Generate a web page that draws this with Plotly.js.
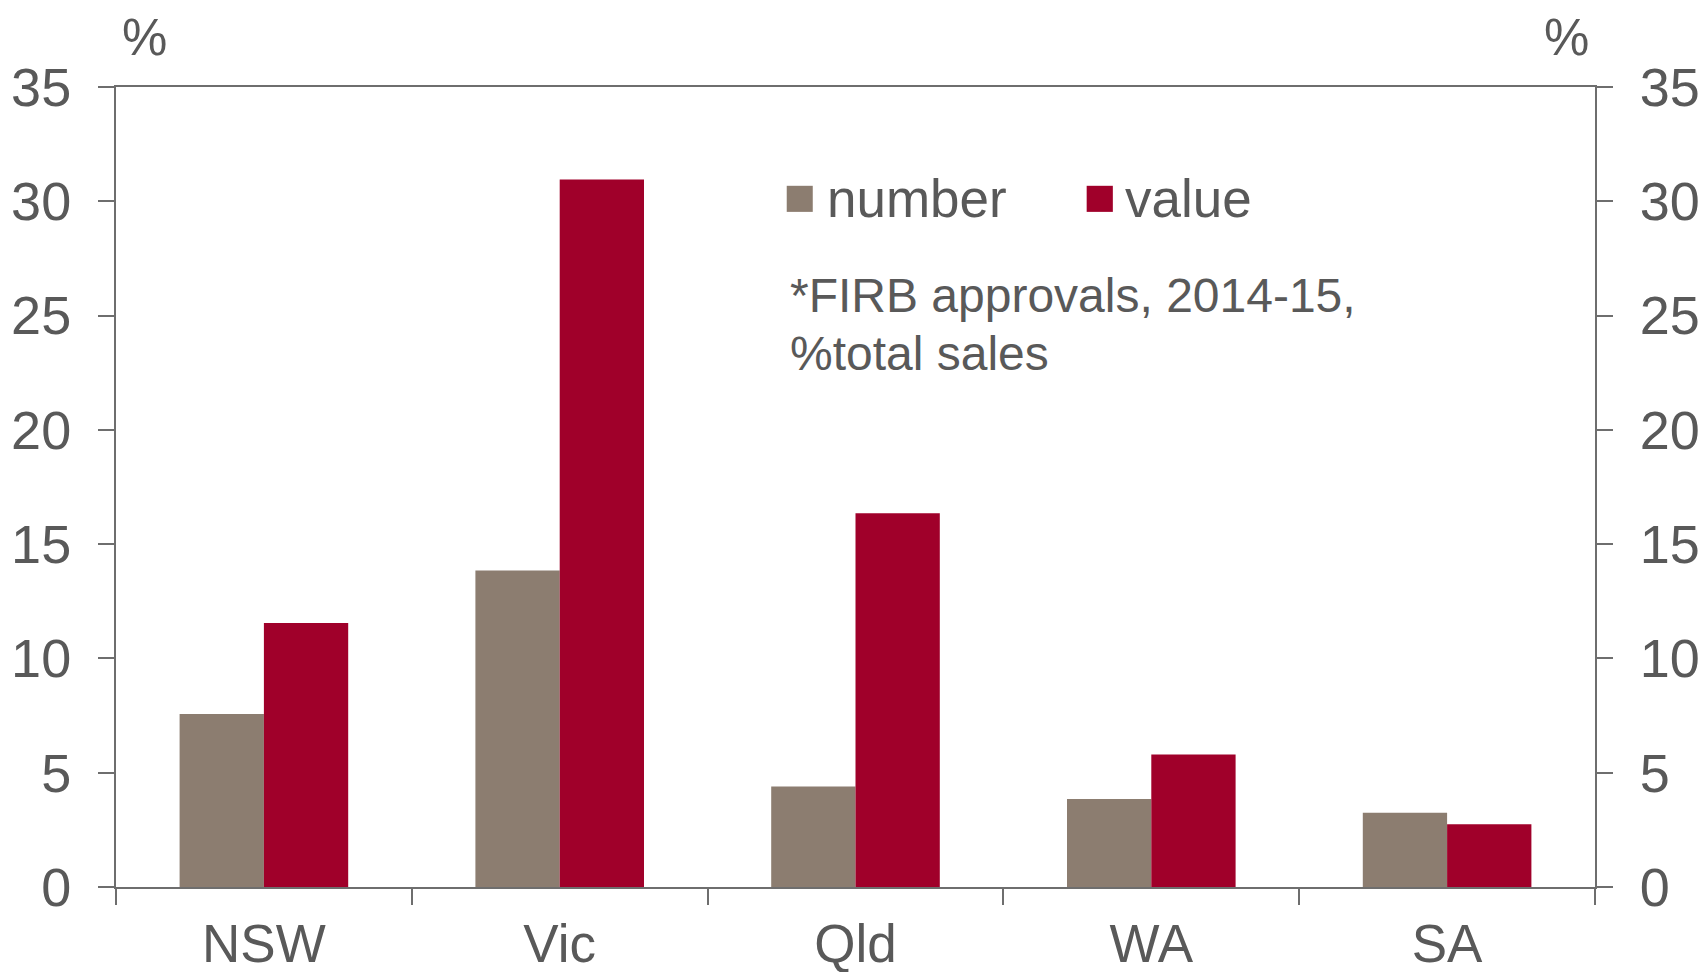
<!DOCTYPE html>
<html>
<head>
<meta charset="utf-8">
<script src="https://cdn.plot.ly/plotly-3.0.1.min.js"></script>
<style>html,body{margin:0;padding:0;background:#fff;}#chart{width:1704px;height:972px;}</style>
</head>
<body>
<div id="chart"></div>
<script>
var states = ["NSW", "Vic", "Qld", "WA", "SA"];
var numberShare = [7.57, 13.85, 4.4, 3.85, 3.25];
var valueShare = [11.55, 30.95, 16.35, 5.8, 2.75];
var yTicks = [0, 5, 10, 15, 20, 25, 30, 35];
var seriesNames = ["number", "value"];
var noteLines = ["*FIRB approvals, 2014-15,", "%total sales"];
var unitLabel = "%";

var FONT = "Liberation Sans, Arial, sans-serif";
var TXT = "#595959";
var AX = "#6E6E6E";
var C_NUM = "#8C7D70";
var C_VAL = "#A0002A";

var traces = [
  {type: "bar", name: seriesNames[0], x: states, y: numberShare, marker: {color: C_NUM, line: {width: 0}}, showlegend: false, hoverinfo: "x+y"},
  {type: "bar", name: seriesNames[1], x: states, y: valueShare, marker: {color: C_VAL, line: {width: 0}}, showlegend: false, hoverinfo: "x+y"},
  {type: "scatter", mode: "none", x: states, y: valueShare, yaxis: "y2", showlegend: false, hoverinfo: "skip"}
];

var yCommon = {
  range: [0, 35], tickvals: yTicks, ticktext: yTicks.map(String),
  showgrid: false, zeroline: false, showline: true, linecolor: AX, linewidth: 2,
  ticks: "outside", ticklen: 16, tickwidth: 2, tickcolor: AX,
  tickfont: {family: FONT, size: 54, color: TXT}, ticklabelstandoff: 16, fixedrange: true
};

var layout = {
  width: 1704, height: 972,
  margin: {l: 116, r: 109, t: 87, b: 85, pad: 0},
  paper_bgcolor: "#fff", plot_bgcolor: "#fff",
  barmode: "group", bargap: 0.43, bargroupgap: 0,
  showlegend: false,
  xaxis: {
    type: "category", tickson: "boundaries",
    showgrid: false, zeroline: false, showline: true, mirror: true, linecolor: AX, linewidth: 2,
    ticks: "outside", ticklen: 16, tickwidth: 2, tickcolor: AX,
    tickfont: {family: FONT, size: 53, color: TXT}, ticklabelstandoff: 9, fixedrange: true
  },
  yaxis: Object.assign({}, yCommon, {side: "left"}),
  yaxis2: Object.assign({}, yCommon, {side: "right", overlaying: "y", anchor: "x"}),
  shapes: [
    {type: "rect", xref: "paper", yref: "paper", x0: 0.4535, x1: 0.4711, y0: 0.8439, y1: 0.8765, fillcolor: C_NUM, line: {width: 0}},
    {type: "rect", xref: "paper", yref: "paper", x0: 0.6563, x1: 0.6740, y0: 0.8439, y1: 0.8765, fillcolor: C_VAL, line: {width: 0}}
  ],
  annotations: [
    {xref: "paper", yref: "paper", x: 0.4792, y: 0.861, xanchor: "left", yanchor: "middle", text: seriesNames[0], showarrow: false, font: {family: FONT, size: 53, color: TXT}},
    {xref: "paper", yref: "paper", x: 0.6807, y: 0.861, xanchor: "left", yanchor: "middle", text: seriesNames[1], showarrow: false, font: {family: FONT, size: 53, color: TXT}},
    {xref: "paper", yref: "paper", x: 0.4542, y: 0.739, xanchor: "left", yanchor: "middle", text: noteLines[0], showarrow: false, font: {family: FONT, size: 48, color: TXT}},
    {xref: "paper", yref: "paper", x: 0.4542, y: 0.6675, xanchor: "left", yanchor: "middle", text: noteLines[1], showarrow: false, font: {family: FONT, size: 48, color: TXT}},
    {xref: "paper", yref: "paper", x: 0.0196, y: 1.0625, xanchor: "center", yanchor: "middle", text: unitLabel, showarrow: false, font: {family: FONT, size: 51, color: TXT}},
    {xref: "paper", yref: "paper", x: 0.981, y: 1.0625, xanchor: "center", yanchor: "middle", text: unitLabel, showarrow: false, font: {family: FONT, size: 51, color: TXT}}
  ]
};

Plotly.newPlot("chart", traces, layout, {staticPlot: true, displayModeBar: false});
</script>
</body>
</html>
